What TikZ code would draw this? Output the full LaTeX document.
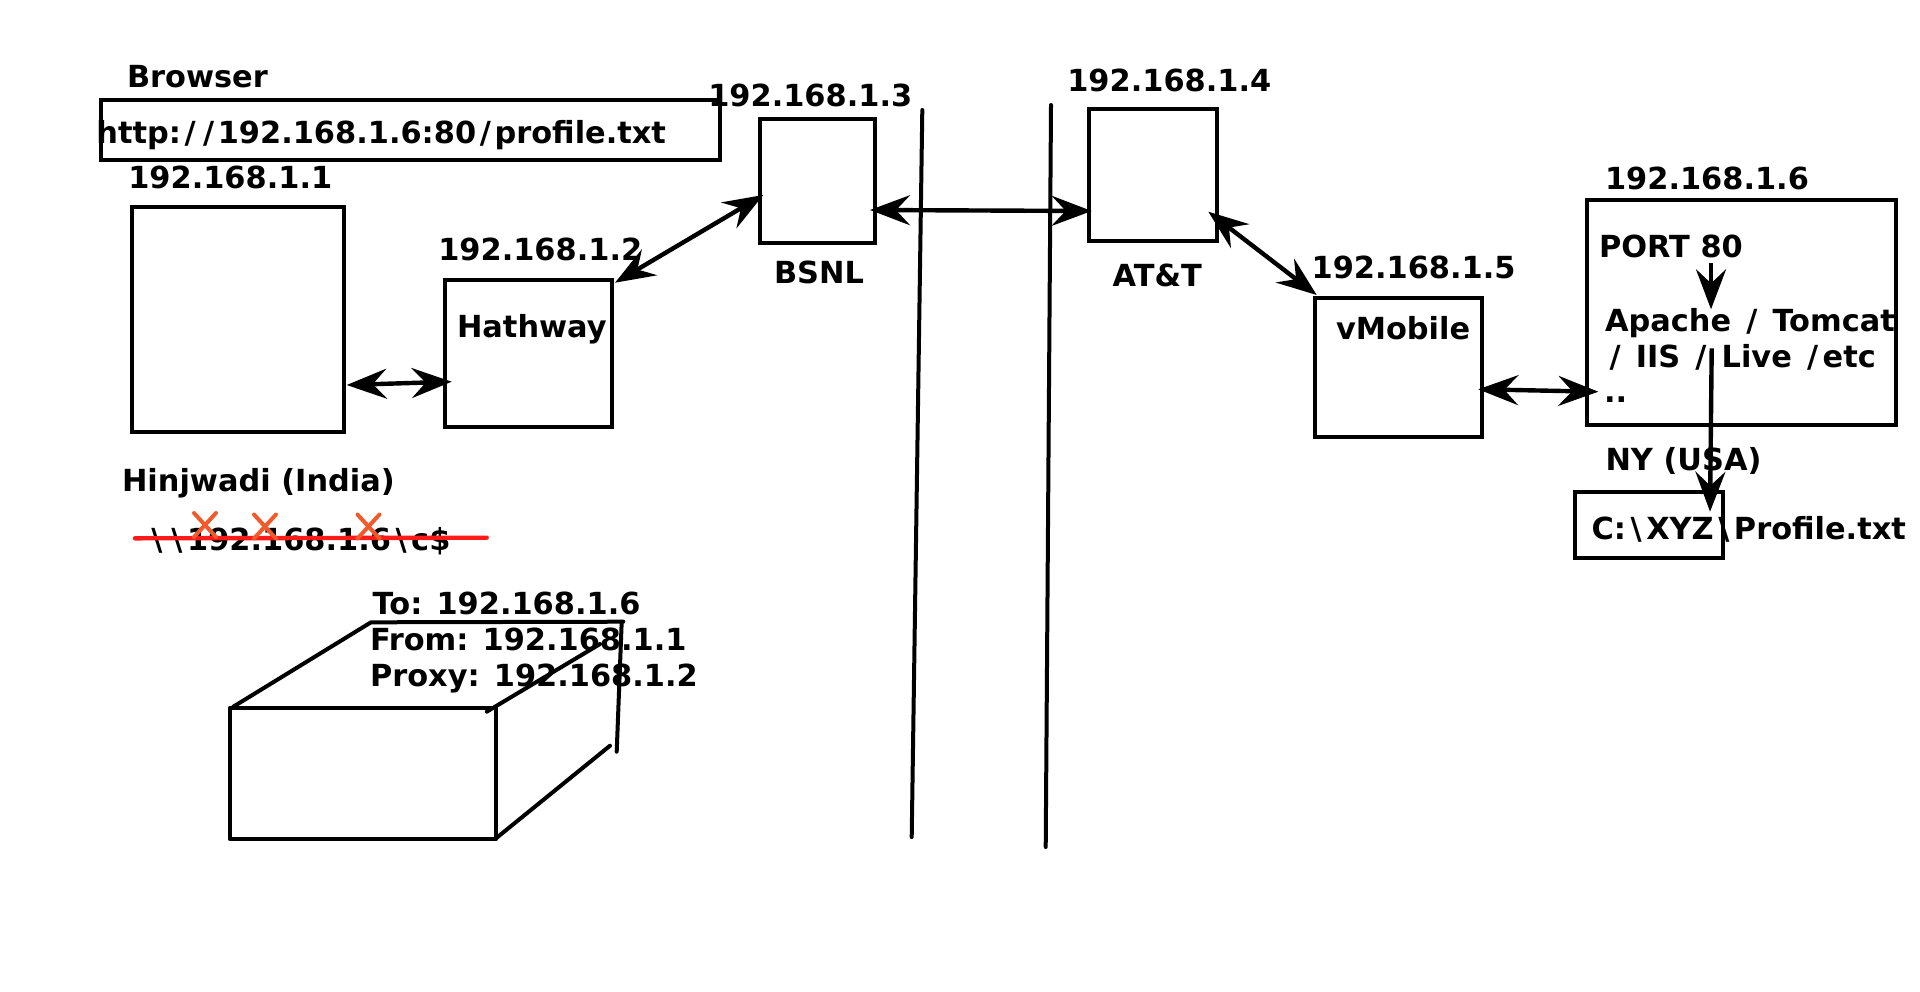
\documentclass[tikz,border=0pt]{standalone}
\usepackage{fontspec}
\setmainfont{DejaVu Sans}
\usetikzlibrary{arrows.meta}
\tikzset{ahead/.tip={Stealth[length=20pt,width=15pt,inset=7pt]}}
\definecolor{strikered}{HTML}{FF1A1A}
\definecolor{crossorange}{HTML}{F15A2B}
\newcommand{\wsl}{\kern0.15em/\kern0.15em}
\newcommand{\usl}{\kern0.12em/\kern0.12em}
\newcommand{\wbs}{\kern0.15em\textbackslash\kern0.15em}
\begin{document}
\begin{tikzpicture}[x=0.5pt,y=-0.5pt,
  box/.style={draw,line width=2pt,inner sep=0pt,outer sep=0pt,anchor=north west},
  lbl/.style={anchor=base west,inner sep=0pt,outer sep=0pt,font=\bfseries\fontsize{15.2}{18}\selectfont},
  dbl/.style={line width=2.2pt,{ahead}-{ahead}},
  sgl/.style={line width=2.2pt,-{ahead}},
  wall/.style={line width=2pt,line cap=round},
  crate/.style={line width=2pt,line cap=round,line join=round},
  cross/.style={line width=2pt,line cap=round,crossorange},
]
\useasboundingbox (0,0) rectangle (1920,991);

% boxes
\node[box,minimum width=309.5pt,minimum height=30pt] (url) at (101,100) {};
\node[box,minimum width=106.15pt,minimum height=112.5pt] (client) at (131.7,206.7) {};
\node[box,minimum width=83.35pt,minimum height=73.35pt] (hath) at (445,280) {};
\node[box,minimum width=57.5pt,minimum height=62pt] (bsnl) at (760,118.7) {};
\node[box,minimum width=63.75pt,minimum height=65.6pt] (att) at (1089,109.3) {};
\node[box,minimum width=83.35pt,minimum height=69.2pt] (vmob) at (1315,298.3) {};
\node[box,minimum width=154.75pt,minimum height=112.4pt] (srv) at (1586.5,199.7) {};
\node[box,minimum width=74.15pt,minimum height=33.3pt] (prof) at (1575,491.7) {};

% labels
\node[lbl] (tbrowser) at (127,87) {Browser};
\node[lbl,anchor=base east] (turl) at (666,143.5) {http:\usl\usl 192.168.1.6:80\usl profile.txt};
\node[lbl] (tip1) at (128.3,188) {192.168.1.1};
\node[lbl] (tip2) at (438.3,260) {192.168.1.2};
\node[lbl] (thath) at (457,337.5) {Hathway};
\node[lbl] (tip3) at (708.3,106) {192.168.1.3};
\node[lbl] (tbsnl) at (774,283) {BSNL};
\node[lbl] (tip4) at (1067.3,91.5) {192.168.1.4};
\node[lbl] (tatt) at (1112.7,286) {AT\&T};
\node[lbl] (tip5) at (1311.6,278.8) {192.168.1.5};
\node[lbl] (tvmob) at (1336,339.3) {vMobile};
\node[lbl] (tip6) at (1605,189) {192.168.1.6};
\node[lbl] (tport) at (1599,257) {PORT 80};
\node[lbl] (tapache) at (1605,331) {Apache \wsl{} Tomcat};
\node[lbl] (tiis) at (1605,367) {\wsl{} IIS \wsl{} Live \wsl etc};
\node[lbl] (tdots) at (1604,402) {..};
\node[lbl] (tny) at (1605.5,470.5) {NY (USA)};
\node[lbl] (tprof) at (1591.6,539) {C:\wbs XYZ\wbs Profile.txt};
\node[lbl] (thinj) at (122,491) {Hinjwadi (India)};
\node[lbl] (tunc) at (146.7,550.5) {\wbs\wbs 192.168.1.6\wbs c\$};
\node[lbl] (tto) at (372.7,614.3) {To: 192.168.1.6};
\node[lbl] (tfrom) at (370,650) {From: 192.168.1.1};
\node[lbl] (tproxy) at (370,686) {Proxy: 192.168.1.2};

% connectors
\draw[dbl] ([shift={(2.7,178.3)}]client.north east) -- ([shift={(6.7,101.7)}]hath.north west);
\draw[dbl] ([shift={(3.3,2.7)}]hath.north east) -- ([shift={(3.3,76.3)}]bsnl.north west);
\draw[dbl] ([shift={(-5,91.3)}]bsnl.north east) -- ([shift={(2.7,101.7)}]att.north west);
\draw[dbl] ([shift={(-8.2,102.4)}]att.north east) -- ([shift={(1.7,-3.3)}]vmob.north west);
\draw[dbl] ([shift={(-3.4,91)}]vmob.north east) -- ([shift={(11.8,192)}]srv.north west);
\draw[sgl] ([shift={(124.5,63.6)}]srv.north west) -- ([shift={(124.5,109.6)}]srv.north west);
\draw[sgl] ([shift={(125.2,148.6)}]srv.north west) -- ([shift={(135,20)}]prof.north west);

% walls
\draw[wall] (922.3,110) -- (911.7,837);
\draw[wall] (1051,105) -- (1045.7,847);

% crossed-out share path
\draw[line width=2.2pt,line cap=round,strikered] (135,538.3) -- (486.7,537.7);
\foreach \cx/\cy in {205/525,265/526.5,368.5/526.5}{
  \draw[cross] (\cx-11,\cy-12) -- (\cx+11,\cy+12);
  \draw[cross] (\cx+11,\cy-12) -- (\cx-11,\cy+12);
}

% packet box
\draw[crate] (230,707.7) rectangle (496,839.3);
\draw[crate] (233.3,706.7) -- (371,622.3) -- (623.3,621.7);
\draw[crate] (486.7,711.7) -- (600,644);
\draw[crate] (621.7,621.7) -- (616.7,751.7);
\draw[crate] (496,838.3) -- (610,745.7);
\end{tikzpicture}
\end{document}
